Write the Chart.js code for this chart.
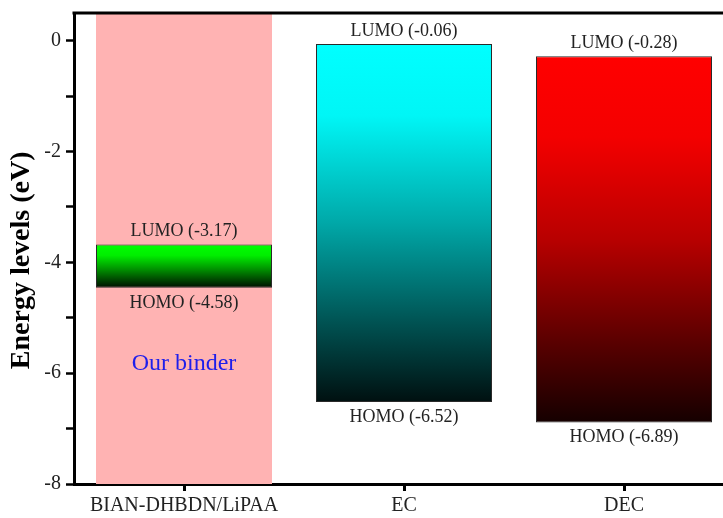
<!DOCTYPE html>
<html>
<head>
<meta charset="utf-8">
<script src="https://cdn.jsdelivr.net/npm/chart.js@4/dist/chart.umd.min.js"></script>
<style>
  html, body { margin: 0; padding: 0; background: #fff; overflow: hidden; }
  #wrap { position: relative; width: 734px; height: 518px; }
</style>
</head>
<body>
<div id="wrap"><canvas id="c"></canvas></div>
<script>
// ---- data ----
const categories = ['BIAN-DHBDN/LiPAA', 'EC', 'DEC'];
const lumo = [-3.68, -0.06, -0.28];          // top of each energy bar (as drawn)
const homo = [-4.46, -6.52, -6.89];          // bottom of each energy bar (as drawn)
const lumoLabels = ['LUMO (-3.17)', 'LUMO (-0.06)', 'LUMO (-0.28)'];
const homoLabels = ['HOMO (-4.58)', 'HOMO (-6.52)', 'HOMO (-6.89)'];
const binderBand = [-8, 0.5];                // shaded "our binder" column
const binderText = 'Our binder';
const binderTextLevel = -5.83;
const yLabeledTicks = [0, -2, -4, -6, -8];
const yTitle = 'Energy levels (eV)';

const FONT = "'Liberation Serif', 'Times New Roman', serif";

const gradStops = [
  [[0, '#00ff00'], [0.25, '#00ee00'], [0.6, '#008800'], [1, '#000d00']],
  [[0, '#00ffff'], [0.2, '#00f6f6'], [0.5, '#00a8a8'], [0.78, '#005252'], [1, '#001010']],
  [[0, '#ff0000'], [0.22, '#f40000'], [0.5, '#b80000'], [0.78, '#5a0000'], [1, '#150000']]
];

function barGradient(ctx) {
  const chart = ctx.chart;
  if (!chart.chartArea || ctx.type !== 'data' || !ctx.raw) return '#888';
  const y = chart.scales.y;
  const top = y.getPixelForValue(ctx.raw[1]);
  const bot = y.getPixelForValue(ctx.raw[0]);
  const g = chart.ctx.createLinearGradient(0, top, 0, bot);
  gradStops[ctx.dataIndex].forEach(s => g.addColorStop(s[0], s[1]));
  return g;
}

const annotations = {
  id: 'annotations',
  afterDatasetsDraw(chart) {
    const c = chart.ctx, x = chart.scales.x, y = chart.scales.y;
    c.save();
    c.fillStyle = '#222';
    c.font = '18px ' + FONT;
    c.textAlign = 'center';
    c.textBaseline = 'middle';
    categories.forEach((cat, i) => {
      const px = x.getPixelForValue(i);
      c.fillText(lumoLabels[i], px, y.getPixelForValue(lumo[i]) - 13);
      c.fillText(homoLabels[i], px, y.getPixelForValue(homo[i]) + 15);
    });
    c.fillStyle = 'rgb(30,30,235)';
    c.font = '24px ' + FONT;
    c.fillText(binderText, x.getPixelForValue(0), y.getPixelForValue(binderTextLevel));
    c.restore();
  },
  afterDraw(chart) {
    const c = chart.ctx, a = chart.chartArea;
    c.save();
    // top frame line
    c.strokeStyle = '#000';
    c.lineWidth = 3;
    c.beginPath();
    c.moveTo(a.left - 1.5, a.top);
    c.lineTo(a.right + 2, a.top);
    c.stroke();
    // y-axis title
    const y = chart.scales.y;
    c.translate(22, (y.getPixelForValue(-2) + y.getPixelForValue(-6)) / 2 - 2);
    c.rotate(-Math.PI / 2);
    c.fillStyle = '#000';
    c.font = 'bold 28px ' + FONT;
    c.textAlign = 'center';
    c.textBaseline = 'middle';
    c.fillText(yTitle, 0, 0);
    c.restore();
  }
};

new Chart(document.getElementById('c'), {
  type: 'bar',
  data: {
    labels: categories,
    datasets: [
      {
        label: 'levels',
        data: categories.map((c, i) => [homo[i], lumo[i]]),
        backgroundColor: barGradient,
        borderColor: '#2a2a2a',
        borderWidth: 1,
        borderSkipped: false,
        grouped: false,
        barPercentage: 0.8,
        categoryPercentage: 1,
        order: 0
      },
      {
        label: 'binder',
        data: categories.map((c, i) => i === 0 ? binderBand : null),
        backgroundColor: '#ffb3b3',
        borderWidth: 0,
        grouped: false,
        barPercentage: 0.8,
        categoryPercentage: 1,
        order: 1
      }
    ]
  },
  plugins: [annotations],
  options: {
    responsive: true,
    maintainAspectRatio: false,
    animation: false,
    layout: { padding: { top: 13, left: 0, right: 0, bottom: 0 } },
    plugins: { legend: { display: false }, tooltip: { enabled: false } },
    scales: {
      x: {
        offset: true,
        grid: { display: true, drawOnChartArea: false, offset: false, tickLength: 7, tickWidth: 3, tickColor: '#000' },
        border: { display: true, color: '#000', width: 3 },
        ticks: { color: '#222', font: { family: FONT, size: 20 }, padding: 3, maxRotation: 0 },
        afterFit(s) { s.height = 34; s.paddingLeft = 0; s.paddingRight = 0; }
      },
      y: {
        min: -8,
        max: 0.5,
        grid: { display: true, drawOnChartArea: false, tickLength: 8, tickWidth: 2.5, tickColor: '#000' },
        border: { display: true, color: '#000', width: 3 },
        ticks: {
          stepSize: 1,
          includeBounds: false,
          color: '#222',
          font: { family: FONT, size: 20 },
          padding: 5,
          callback: v => yLabeledTicks.includes(v) ? String(v) : ''
        },
        title: { display: false },
        afterFit(s) { s.width = 74; s.paddingTop = 0; s.paddingBottom = 0; }
      }
    }
  }
});
</script>
</body>
</html>
